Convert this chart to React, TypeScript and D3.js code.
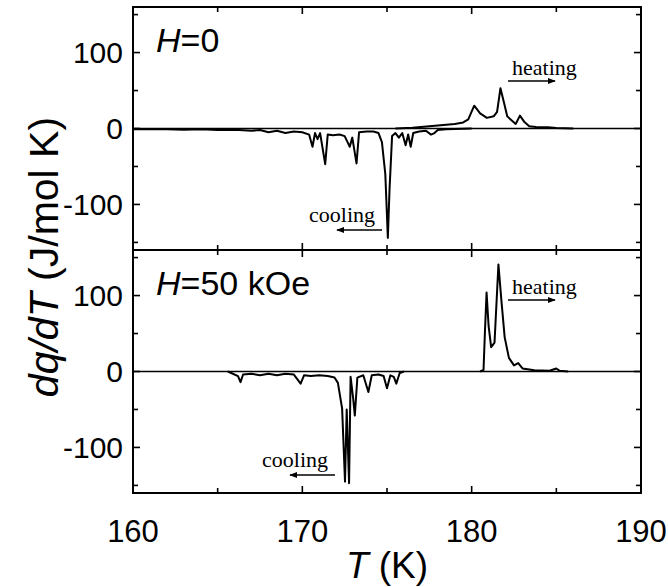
import React, { useEffect, useRef } from 'react';
import * as d3 from 'd3';

// temperature (K), dq/dT (J/mol K)
const topCoolT = [160, 161, 162, 163, 164, 165, 166, 167, 167.5, 168, 168.5, 169, 169.5, 170, 170.4, 170.6, 170.75, 170.9, 171.05, 171.35, 171.5, 171.8, 172.2, 172.5, 172.8, 172.95, 173.2, 173.35, 173.8, 174.2, 174.5, 174.7, 174.9, 175.05, 175.15, 175.3, 175.5, 175.7, 175.9, 176.1, 176.25, 176.4, 176.55, 176.9, 177.3, 177.6, 177.8, 178, 178.5, 179, 180];
const topCoolV = [-1, -0.5, -1, -1.5, -1, -2, -1.5, -3, -2, -5, -3, -6, -4, -5, -8, -24, -6, -14, -6, -47, -8, -9, -8, -10, -24, -12, -46, -5, -4, -4, -6, -18, -60, -144, -80, -10, -6, -12, -6, -22, -8, -24, -6, -4, -3, -8, -6, -2, -1, -0.5, 0];
const topHeatT = [175.5, 176.5, 177, 178, 179, 179.5, 179.8, 180.15, 180.5, 180.9, 181.3, 181.5, 181.7, 181.9, 182.1, 182.4, 182.6, 182.85, 183.1, 183.4, 183.8, 184.5, 185, 186];
const topHeatV = [0, 1, 2, 4, 6, 8, 12, 30, 20, 14, 16, 22, 53, 35, 16, 10, 6, 17, 9, 3, 2, 1.5, 0.5, 0];

const botCoolT = [165.6, 165.9, 166.2, 166.35, 166.5, 167, 167.5, 168, 168.5, 169, 169.5, 169.9, 170.1, 170.5, 171, 171.5, 171.9, 172.1, 172.35, 172.52, 172.62, 172.76, 172.85, 173.0, 173.1, 173.25, 173.6, 173.9, 174.1, 174.5, 174.8, 175.0, 175.2, 175.4, 175.55, 175.75, 176];
const botCoolV = [0, -3, -6, -14, -4, -3, -5, -3, -5, -3, -4, -16, -5, -6, -5, -6, -8, -15, -49, -145, -50, -147, -7, -35, -58, -8, -5, -27, -5, -4, -6, -22, -5, -7, -16, -2, 0];
const botHeatT = [180.5, 180.7, 180.78, 180.88, 181.0, 181.15, 181.35, 181.58, 181.75, 181.95, 182.2, 182.5, 182.75, 183.0, 183.7, 184.6, 185.0, 185.2, 185.7];
const botHeatV = [0, 2, 50, 104, 60, 32, 38, 141, 95, 45, 18, 8, 11, 4, 1.5, 1, 4, 1, 0];

const xTicks = [160, 170, 180, 190];
const xMinor = [165, 175, 185];
const yTicks = [-100, 0, 100];
const yMinor = [-150, -50, 50, 150];
const panelLabels = ['=0', '=50 kOe'];

const W = 668;
const H = 587;

export default function App() {
  const ref = useRef<SVGSVGElement>(null);

  useEffect(() => {
    if (!ref.current) return;
    const svg = d3.select(ref.current);
    svg.selectAll('*').remove();

    const sans = 'Liberation Sans, Arial, sans-serif';
    const serif = 'Liberation Serif, Times New Roman, serif';
    const left = 133, right = 641;
    const panels = [
      { top: 7, bottom: 250, cool: [topCoolT, topCoolV], heat: [topHeatT, topHeatV], coolText: [309, 222], heatText: [512, 75] },
      { top: 250, bottom: 493, cool: [botCoolT, botCoolV], heat: [botHeatT, botHeatV], coolText: [262, 467], heatText: [512, 294] },
    ];

    const x = d3.scaleLinear().domain([160, 190]).range([left, right]);

    svg.append('defs').append('marker')
      .attr('id', 'ah')
      .attr('viewBox', '0 0 10 10')
      .attr('refX', 9).attr('refY', 5)
      .attr('markerWidth', 5).attr('markerHeight', 5)
      .attr('markerUnits', 'strokeWidth')
      .attr('orient', 'auto')
      .append('path').attr('d', 'M0,1 L10,5 L0,9 z').attr('fill', '#000');

    panels.forEach((p, i) => {
      const y = d3.scaleLinear().domain([-160, 160]).range([p.bottom, p.top]);
      const g = svg.append('g');

      // zero line
      g.append('line')
        .attr('x1', left).attr('x2', right)
        .attr('y1', y(0)).attr('y2', y(0))
        .attr('stroke', '#000').attr('stroke-width', 1.5);

      [p.cool, p.heat].forEach(([ts, vs]) => {
        const pts = ts.map((t, j) => [x(t), y(vs[j])] as [number, number]);
        g.append('path')
          .attr('d', d3.line()(pts))
          .attr('fill', 'none')
          .attr('stroke', '#000')
          .attr('stroke-width', 2)
          .attr('stroke-linejoin', 'round');
      });

      // ticks, inward on all sides
      const tk = g.append('g').attr('stroke', '#000').attr('stroke-width', 1.6);
      [...xTicks, ...xMinor].forEach(t => {
        const len = xTicks.includes(t) ? 7 : 5;
        tk.append('line').attr('x1', x(t)).attr('x2', x(t)).attr('y1', p.bottom).attr('y2', p.bottom - len);
        tk.append('line').attr('x1', x(t)).attr('x2', x(t)).attr('y1', p.top).attr('y2', p.top + len);
      });
      [...yTicks, ...yMinor].forEach(v => {
        const len = yTicks.includes(v) ? 7 : 5;
        tk.append('line').attr('x1', left).attr('x2', left + len).attr('y1', y(v)).attr('y2', y(v));
        tk.append('line').attr('x1', right).attr('x2', right - len).attr('y1', y(v)).attr('y2', y(v));
      });

      // y labels
      yTicks.forEach(v => {
        g.append('text')
          .attr('x', left - 10).attr('y', y(v))
          .attr('dy', '0.36em')
          .attr('text-anchor', 'end')
          .attr('font-family', sans)
          .attr('font-size', 30)
          .text(v);
      });

      // frame
      g.append('rect')
        .attr('x', left).attr('y', p.top)
        .attr('width', right - left).attr('height', p.bottom - p.top)
        .attr('fill', 'none').attr('stroke', '#000').attr('stroke-width', 2);

      // panel label
      const lbl = g.append('text')
        .attr('x', 156).attr('y', p.top + 45)
        .attr('font-family', sans)
        .attr('font-size', 34);
      lbl.append('tspan').attr('font-style', 'italic').text('H');
      lbl.append('tspan').text(panelLabels[i]);

      // annotations
      g.append('text')
        .attr('x', p.heatText[0]).attr('y', p.heatText[1])
        .attr('font-family', serif).attr('font-size', 22)
        .text('heating');
      g.append('line')
        .attr('x1', p.heatText[0] - 4).attr('x2', p.heatText[0] + 43)
        .attr('y1', p.heatText[1] + 6).attr('y2', p.heatText[1] + 6)
        .attr('stroke', '#000').attr('stroke-width', 1.6)
        .attr('marker-end', 'url(#ah)');
      g.append('text')
        .attr('x', p.coolText[0]).attr('y', p.coolText[1])
        .attr('font-family', serif).attr('font-size', 22)
        .text('cooling');
      g.append('line')
        .attr('x1', p.coolText[0] + 73).attr('x2', p.coolText[0] + 28)
        .attr('y1', p.coolText[1] + 8).attr('y2', p.coolText[1] + 8)
        .attr('stroke', '#000').attr('stroke-width', 1.6)
        .attr('marker-end', 'url(#ah)');
    });

    // x tick labels
    xTicks.forEach(t => {
      svg.append('text')
        .attr('x', x(t)).attr('y', 542)
        .attr('text-anchor', 'middle')
        .attr('font-family', sans)
        .attr('font-size', 31)
        .text(t);
    });

    // axis titles
    const xt = svg.append('text')
      .attr('x', x(175)).attr('y', 578)
      .attr('text-anchor', 'middle')
      .attr('font-family', sans)
      .attr('font-size', 37);
    xt.append('tspan').attr('font-style', 'italic').text('T');
    xt.append('tspan').text(' (K)');

    const yt = svg.append('text')
      .attr('transform', `translate(58,${257}) rotate(-90)`)
      .attr('text-anchor', 'middle')
      .attr('font-family', sans)
      .attr('font-size', 41);
    yt.append('tspan').attr('font-style', 'italic').text('dq/dT');
    yt.append('tspan').text(' (J/mol K)');
  }, []);

  return (
    <svg ref={ref} width={W} height={H} style={{ position: 'absolute', left: 0, top: 0, background: '#fff' }} />
  );
}
